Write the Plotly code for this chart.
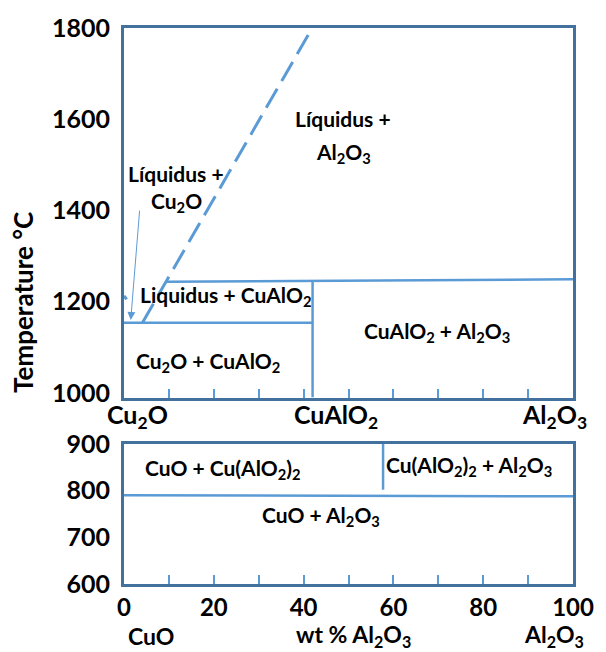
import plotly.graph_objects as go

# ---------------- data (wt % Al2O3, temperature in °C) ----------------
# Cu2O - Al2O3 (upper diagram)
eutectic_x = [0, 42.0]
eutectic_T = [1154, 1154]
peritectic_x = [9.3, 100]
peritectic_T = [1244, 1249]
cualo2_x = [42.0, 42.0]
cualo2_T = [990, 1244]
liquidus_x = [4.1, 41.1]
liquidus_T = [1154, 1786]
cu2o_liq_x = [0, 0.6]
cu2o_liq_T = [1213, 1205]
arrow_tail = (3.5, 1403)
arrow_head = (1.5, 1160)
top_T_ticks = [1000, 1200, 1400, 1600, 1800]

# CuO - Al2O3 (lower diagram)
cuo_line_x = [0, 100]
cuo_line_T = [790, 788]
cual2o4_x = [57.7, 57.7]
cual2o4_T = [802, 900]
bottom_T_ticks = [600, 700, 800, 900]
x_ticks = [0, 10, 20, 30, 40, 50, 60, 70, 80, 90, 100]
x_tick_text = ["0", "", "20", "", "40", "", "60", "", "80", "", "100"]

FRAME = "#41719C"
LINE = "#5B9BD5"
FONT = "Lato"

fig = go.Figure()

def seg(x, y, xa, ya, dash=None, width=2.5):
    fig.add_trace(go.Scatter(x=x, y=y, mode="lines", xaxis=xa, yaxis=ya,
                             line=dict(color=LINE, width=width, dash=dash),
                             hoverinfo="skip", showlegend=False))

seg(eutectic_x, eutectic_T, "x", "y")
seg(peritectic_x, peritectic_T, "x", "y")
seg(cualo2_x, cualo2_T, "x", "y")
seg(liquidus_x, liquidus_T, "x", "y", dash="22px,9px", width=3)
seg(cu2o_liq_x, cu2o_liq_T, "x", "y", width=3)
seg(cuo_line_x, cuo_line_T, "x2", "y2")
seg(cual2o4_x, cual2o4_T, "x2", "y2")

ann = []
def lab(text, x, y, xref="x", yref="y", size=21, **kw):
    ann.append(dict(text=text, x=x, y=y, xref=xref, yref=yref, showarrow=False,
                    font=dict(family=FONT, size=size, color="black", weight="bold"),
                    xanchor="center", yanchor="middle", **kw))

lab("Líquidus +", 11.6, 1480)
lab("Cu<sub>2</sub>O", 11.6, 1418)
lab("Líquidus +", 48.8, 1601)
lab("Al<sub>2</sub>O<sub>3</sub>", 48.8, 1526)
lab("Liquidus + CuAlO<sub>2</sub>", 22.5, 1213)
lab("Cu<sub>2</sub>O + CuAlO<sub>2</sub>", 18.8, 1068)
lab("CuAlO<sub>2</sub> + Al<sub>2</sub>O<sub>3</sub>", 69.8, 1133)
lab("CuO + Cu(AlO<sub>2</sub>)<sub>2</sub>", 22.1, 846, "x2", "y2")
lab("Cu(AlO<sub>2</sub>)<sub>2</sub> + Al<sub>2</sub>O<sub>3</sub>", 76.8, 852, "x2", "y2")
lab("CuO + Al<sub>2</sub>O<sub>3</sub>", 43.9, 745, "x2", "y2")

lab("Cu<sub>2</sub>O", 3.0, 0.3025, "x", "paper", size=25)
lab("CuAlO<sub>2</sub>", 47.3, 0.3025, "x", "paper", size=25)
lab("Al<sub>2</sub>O<sub>3</sub>", 95.8, 0.3025, "x", "paper", size=25)
lab("CuO", 6.0, -0.0935, "x2", "paper", size=23)
lab("wt % Al<sub>2</sub>O<sub>3</sub>", 51.2, -0.0935, "x2", "paper", size=23)
lab("Al<sub>2</sub>O<sub>3</sub>", 95.8, -0.0935, "x2", "paper", size=23)
lab("Temperature °C", -0.2254, 0.507, "paper", "paper", size=26, textangle=-90)

ann.append(dict(x=arrow_head[0], y=arrow_head[1], ax=arrow_tail[0], ay=arrow_tail[1],
                xref="x", yref="y", axref="x", ayref="y", showarrow=True,
                arrowhead=2, arrowsize=1.6, arrowwidth=1, arrowcolor=LINE, text=""))

axis_common = dict(showline=True, linecolor=FRAME, linewidth=3, mirror=True,
                   showgrid=False, zeroline=False)
tickfont = dict(family=FONT, size=25, color="black", weight="bold")
xtickfont = dict(family=FONT, size=24, color="black", weight="bold")

fig.update_layout(
    width=606, height=652,
    margin=dict(l=124, r=25, t=22, b=68),
    plot_bgcolor="white", paper_bgcolor="white",
    annotations=ann,
    xaxis=dict(domain=[0, 1], anchor="y", range=[0, 100], tickvals=x_ticks,
               showticklabels=False, ticks="inside", ticklen=9, tickwidth=2,
               tickcolor=LINE, **axis_common),
    yaxis=dict(domain=[0.3354, 1], anchor="x", range=[990, 1800], tickvals=top_T_ticks,
               ticks="", tickfont=tickfont, ticklabelstandoff=6, **axis_common),
    xaxis2=dict(domain=[0, 1], anchor="y2", range=[0, 100], tickvals=x_ticks,
                ticktext=x_tick_text, ticks="inside", ticklen=9, tickwidth=2,
                tickcolor=LINE, tickfont=xtickfont, **axis_common),
    yaxis2=dict(domain=[0, 0.2518], anchor="x2", range=[600, 900], tickvals=bottom_T_ticks,
                ticks="", tickfont=tickfont, ticklabelstandoff=6, **axis_common),
)

fig.write_html("out.html")
